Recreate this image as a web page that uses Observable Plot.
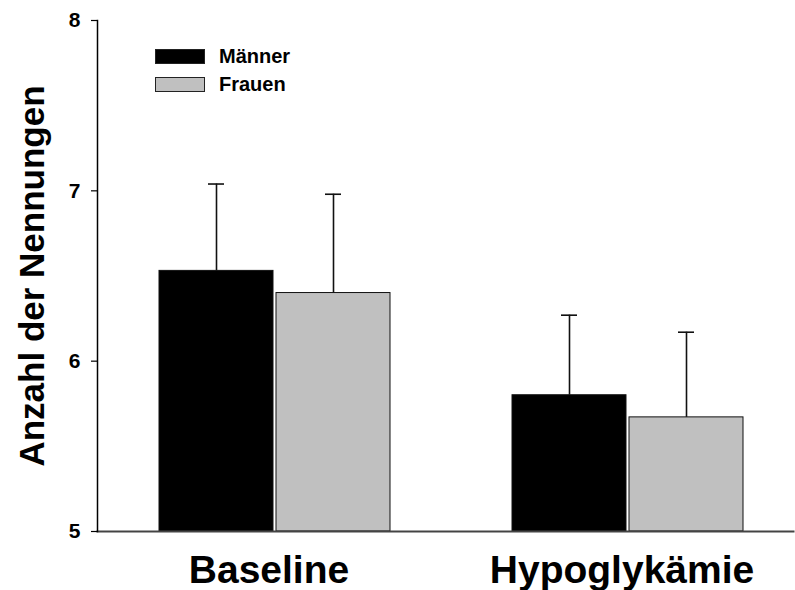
<!DOCTYPE html>
<html>
<head>
<meta charset="utf-8">
<script src="https://cdn.jsdelivr.net/npm/d3@7"></script>
<script src="https://cdn.jsdelivr.net/npm/@observablehq/plot@0.6"></script>
<style>
  html, body { margin: 0; padding: 0; background: #fff; }
  #wrap { position: relative; width: 795px; height: 590px; font-family: "Liberation Sans", Arial, sans-serif; }
  #legend { position: absolute; left: 155px; top: 42px; font-weight: bold; font-size: 20px; color: #000; }
  .item { display: flex; align-items: center; height: 28px; }
  .sw { width: 48px; height: 13px; border: 1px solid #222; margin-right: 14px; box-sizing: content-box; }
</style>
</head>
<body>
<div id="wrap"></div>
<script>
const groups = ["Baseline", "Hypoglykämie"];
const sexes = ["Männer", "Frauen"];
const meanMaenner = [6.53, 5.80];
const meanFrauen = [6.40, 5.67];
const sdMaenner = [0.51, 0.47];
const sdFrauen = [0.58, 0.50];
const yTicks = [5, 6, 7, 8];
const yLabel = "Anzahl der Nennungen";
const colors = ["#000000", "#c0c0c0"];

const data = [];
groups.forEach((g, i) => {
  data.push({group: g, sex: sexes[0], mean: meanMaenner[i], sd: sdMaenner[i]});
  data.push({group: g, sex: sexes[1], mean: meanFrauen[i], sd: sdFrauen[i]});
});

const font = "Liberation Sans, Arial, sans-serif";

const chart = Plot.plot({
  width: 795,
  height: 590,
  marginLeft: 97,
  marginRight: 0,
  marginTop: 20,
  marginBottom: 59,
  style: {fontFamily: font, background: "#fff", overflow: "visible"},
  fx: {domain: groups, axis: null, paddingInner: 0.0282, paddingOuter: 0, align: 0},
  x: {domain: sexes, axis: null, paddingInner: 0.0298, paddingOuter: 0.479, align: 0.554},
  y: {domain: [5, 8], axis: null},
  color: {domain: sexes, range: colors},
  marks: [
    Plot.barY(data, {fx: "group", x: "sex", y1: 5, y2: "mean", fill: "sex", stroke: "#111", strokeWidth: 1}),
    Plot.ruleX(data, {fx: "group", x: "sex", y1: "mean", y2: d => d.mean + d.sd, stroke: "#111", strokeWidth: 1.6}),
    Plot.tickY(data, {fx: "group", x: "sex", y: d => d.mean + d.sd, stroke: "#111", strokeWidth: 1.6, insetLeft: 49, insetRight: 49}),
    Plot.frame({anchor: "bottom", facet: "super", stroke: "#444", strokeWidth: 2}),
    Plot.frame({anchor: "left", facet: "super", stroke: "#000", strokeWidth: 1.5}),
    Plot.axisY({ticks: yTicks, tickFormat: d3.format("d"), tickSize: 6, tickPadding: 11, fontSize: 21, fontWeight: "bold", label: null, stroke: "#000", strokeWidth: 1.2, color: "#000"}),
    Plot.text([yLabel], {facet: "super", text: d => d, frameAnchor: "left", textAnchor: "middle", rotate: -90, dx: -65, fontSize: 35, fontWeight: "bold", fill: "#000"}),
    Plot.text(groups, {fx: d => d, text: d => d, frameAnchor: "bottom", lineAnchor: "top", dy: 24, fontSize: 39, fontWeight: "bold", fill: "#000"})
  ]
});

const wrap = document.getElementById("wrap");
wrap.appendChild(chart);
const legend = document.createElement("div");
legend.id = "legend";
sexes.forEach((s, i) => {
  const it = document.createElement("div");
  it.className = "item";
  const sw = document.createElement("div");
  sw.className = "sw";
  sw.style.background = colors[i];
  const lab = document.createElement("span");
  lab.textContent = s;
  it.appendChild(sw);
  it.appendChild(lab);
  legend.appendChild(it);
});
wrap.appendChild(legend);
</script>
</body>
</html>
